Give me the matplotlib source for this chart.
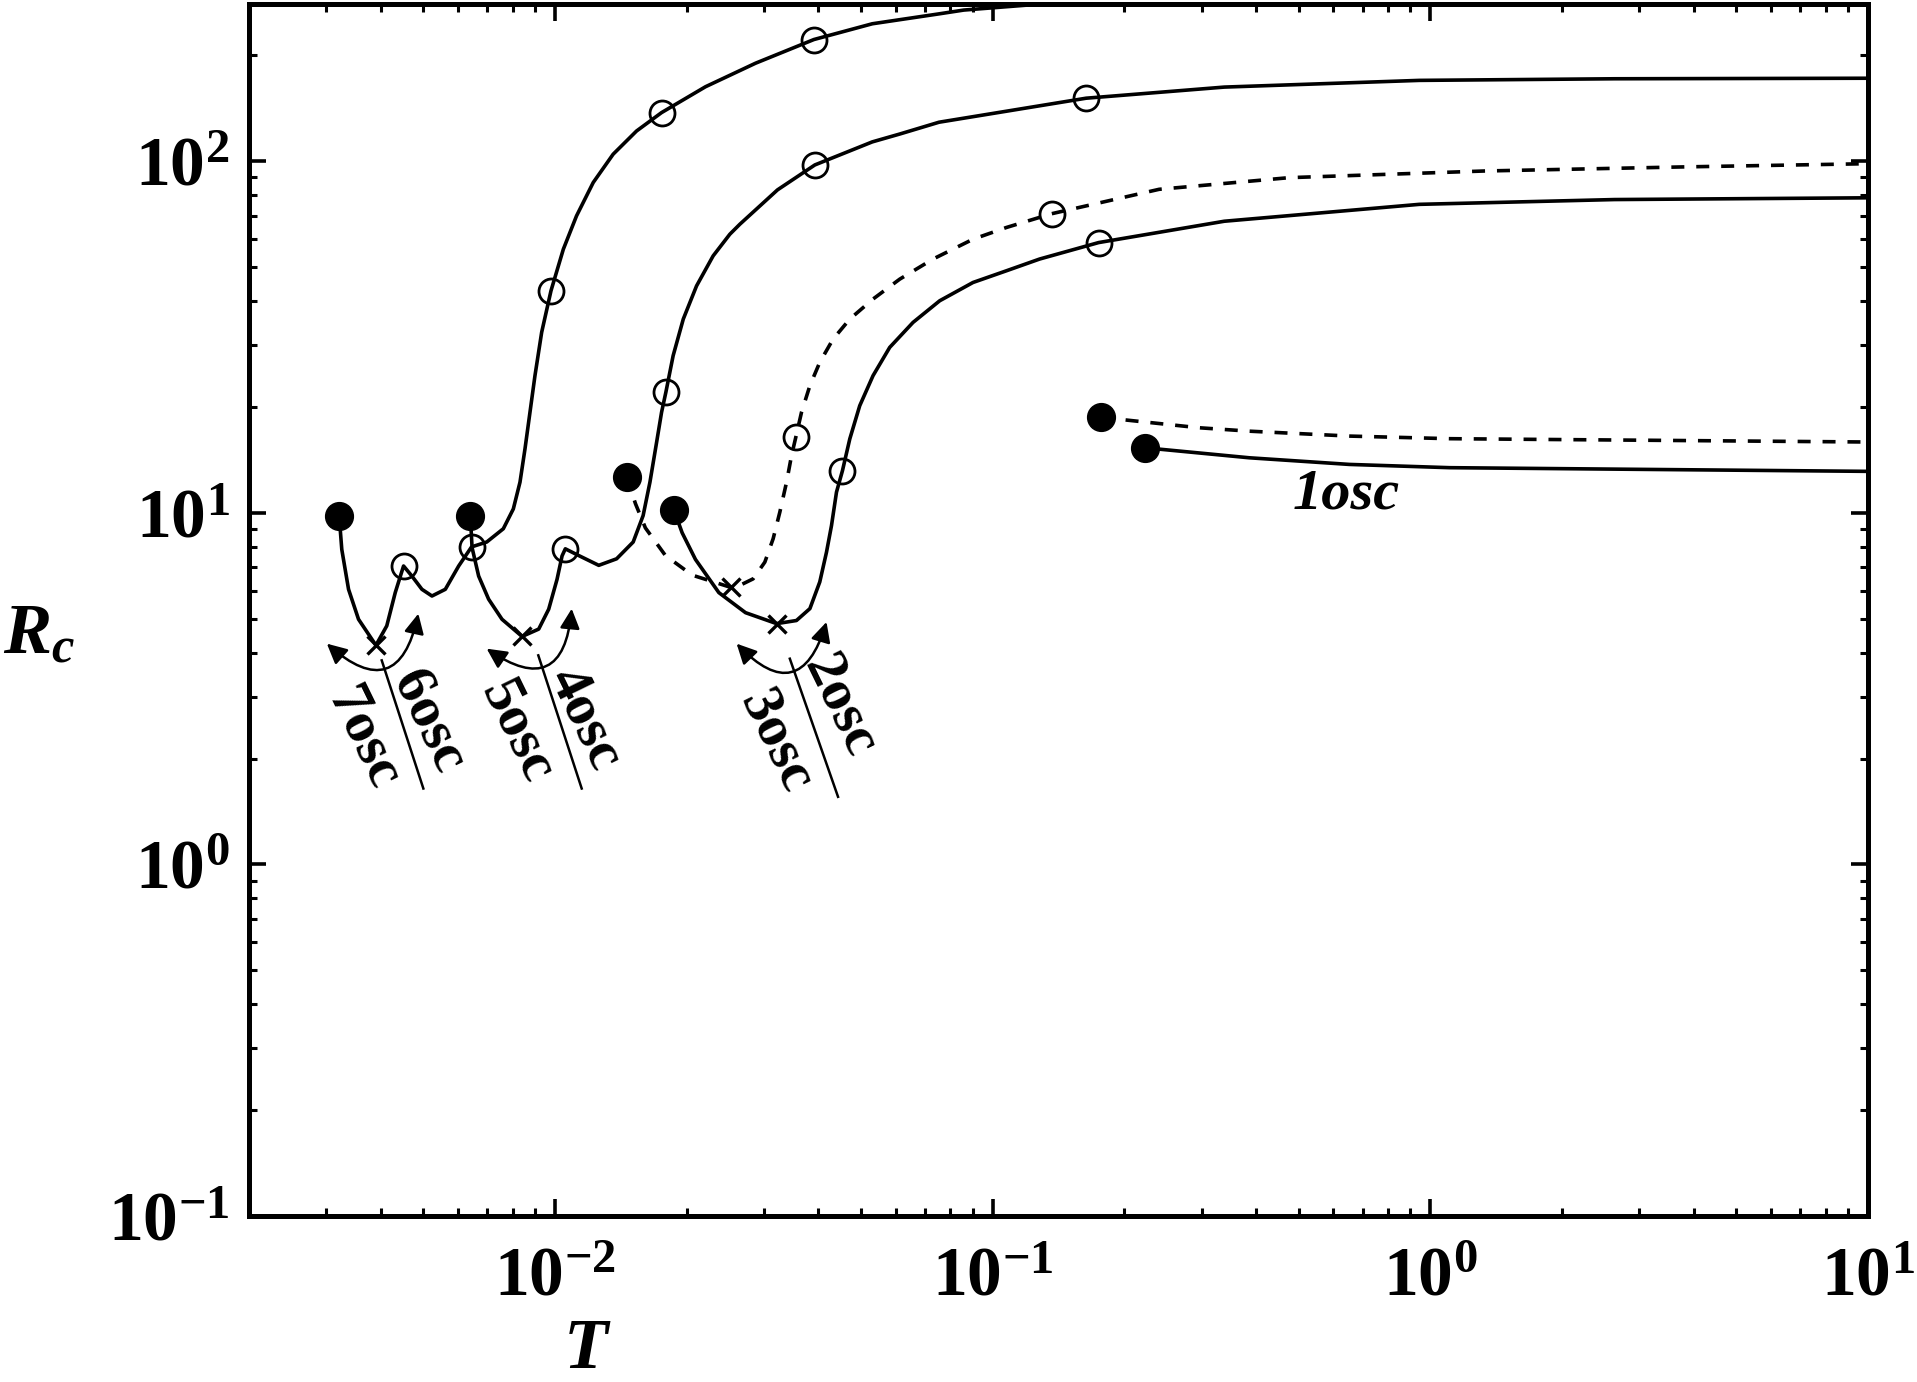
import numpy as np
import matplotlib
matplotlib.use("Agg")
import matplotlib.pyplot as plt
from matplotlib.ticker import LogLocator, FuncFormatter, NullFormatter

plt.rcParams["font.family"] = ["Liberation Serif", "DejaVu Serif"]
plt.rcParams["font.weight"] = "bold"
plt.rcParams["mathtext.fontset"] = "custom"
plt.rcParams["mathtext.rm"] = "Liberation Serif:bold"
plt.rcParams["mathtext.it"] = "Liberation Serif:italic:bold"
plt.rcParams["mathtext.bf"] = "Liberation Serif:bold"

# --- curves (T, Rc) ---
# 7osc -> 6osc -> upper branch
A_T = [0.003214, 0.003258, 0.003376, 0.003558, 0.003899, 0.004128, 0.004316, 0.004509,
       0.004711, 0.004966, 0.005236, 0.005617, 0.006026, 0.006448, 0.006984, 0.007621,
       0.008033, 0.008319, 0.008541, 0.008768, 0.009001, 0.009324, 0.009792, 0.01045,
       0.0112, 0.01223, 0.01358, 0.01536, 0.01752, 0.02208, 0.02872, 0.03905,
       0.05308, 0.0754, 0.08587, 0.1208, 0.15]
A_R = [9.79, 7.87, 6.06, 4.98, 4.2, 4.77, 5.93, 7.06,
       6.61, 6.06, 5.80, 6.06, 7.06, 8.0, 8.26, 9.01,
       10.26, 12.22, 15.2, 19.32, 24.55, 32.61, 42.8, 56.2,
       69.9, 87.0, 104.7, 121.9, 137.5, 162.9, 190.0, 221.9,
       246.0, 262.5, 269.1, 278.2, 284.0]

# 5osc -> 4osc -> second branch
B_T = [0.006407, 0.006466, 0.006693, 0.007054, 0.007568, 0.008410, 0.009180, 0.009676,
       0.01011, 0.01038, 0.01056, 0.01133, 0.01259, 0.01383, 0.01509, 0.0159,
       0.01648, 0.01707, 0.01752, 0.01792, 0.01862, 0.01964, 0.02106, 0.02298,
       0.02509, 0.02645, 0.03224, 0.03924, 0.05308, 0.06133, 0.0754, 0.1635,
       0.3381, 0.9433, 2.632, 10.0]
B_R = [9.79, 7.96, 6.61, 5.68, 4.98, 4.45, 4.67, 5.32,
       6.47, 7.54, 7.90, 7.56, 7.09, 7.40, 8.26, 9.82,
       12.22, 15.88, 19.32, 22.02, 27.99, 35.57, 44.2, 53.8,
       62.0, 66.2, 82.9, 97.6, 113.5, 119.5, 129.1, 151.1,
       162.5, 169.8, 171.6, 172.2]

# 3osc -> 2osc solid branch
C_T = [0.01869, 0.01952, 0.02094, 0.02368, 0.02725, 0.03209, 0.03562, 0.03823,
       0.04027, 0.04172, 0.04283, 0.04397, 0.04538, 0.04716, 0.04969, 0.05329,
       0.05818, 0.06577, 0.07568, 0.09016, 0.1075, 0.128, 0.1746, 0.3381,
       0.9433, 2.632, 10.0]
C_R = [10.2, 8.78, 7.37, 5.93, 5.20, 4.84, 4.94, 5.34,
       6.36, 7.73, 9.2, 11.45, 13.19, 16.23, 20.17, 24.55,
       29.55, 34.8, 40.1, 45.2, 48.8, 52.7, 58.7, 67.5,
       75.4, 77.8, 78.7]

# dashed branch
D_T = [0.01457, 0.01528, 0.01609, 0.01788, 0.02058, 0.02519, 0.02645, 0.02836,
       0.03016, 0.03151, 0.03264, 0.03381, 0.03471, 0.03550, 0.03658, 0.03823,
       0.04027, 0.04319, 0.04716, 0.05329, 0.06133, 0.07307, 0.09016, 0.1075,
       0.1363, 0.2400, 0.4757, 1.328, 3.707, 10.0]
D_R = [12.66, 10.6, 9.06, 7.56, 6.65, 6.14, 6.22, 6.49,
       7.24, 8.44, 10.05, 12.22, 14.55, 16.41, 19.32, 23.0,
       26.8, 31.2, 35.57, 40.55, 46.2, 52.7, 60.0, 64.8,
       70.9, 83.2, 89.8, 93.8, 96.3, 98.4]

# 1osc branches
E_T = [0.1766, 0.2954, 0.3857, 0.6531, 1.106, 10.0]
E_R = [18.69, 17.46, 17.07, 16.53, 16.25, 15.9]
F_T = [0.2230, 0.3857, 0.6531, 1.106, 10.0]
F_R = [15.31, 14.34, 13.73, 13.44, 13.12]

# markers
filled_T = [0.003214, 0.006407, 0.01457, 0.01869, 0.1766, 0.2230]
filled_R = [9.79, 9.79, 12.66, 10.2, 18.69, 15.31]
open_T = [0.004509, 0.006448, 0.009792, 0.01752, 0.03905,
          0.01056, 0.01792, 0.03924, 0.1635,
          0.04538, 0.1746, 0.03550, 0.1363]
open_R = [7.06, 8.0, 42.8, 137.5, 221.9,
          7.90, 22.02, 97.6, 151.1,
          13.19, 58.7, 16.41, 70.9]
cross_T = [0.003899, 0.00841, 0.03209, 0.02519]
cross_R = [4.2, 4.45, 4.84, 6.14]

# annotation groups: arrow tips, divider line, two labels
groups = [
    dict(tips=((0.003012, 4.245), (0.004874, 5.166)),
         line=((0.004020, 3.805), (0.005004, 1.644)),
         left=("7osc", 0.003650, 2.28), right=("6osc", 0.005137, 2.543)),
    dict(tips=((0.006982, 4.108), (0.01092, 5.337)),
         line=((0.009160, 3.932), (0.01151, 1.644)),
         left=("5osc", 0.008176, 2.387), right=("4osc", 0.01171, 2.599)),
    dict(tips=((0.02600, 4.245), (0.04172, 4.893)),
         line=((0.03440, 3.847), (0.04433, 1.557)),
         left=("3osc", 0.03209, 2.232), right=("2osc", 0.04473, 2.828)),
]

LW = 2.6

fig = plt.figure(figsize=(19.17, 13.82), dpi=100)
ax = fig.add_axes([0.1299, 0.1201, 0.8446, 0.8770])

for xs, ys in [(A_T, A_R), (B_T, B_R), (C_T, C_R), (F_T, F_R)]:
    ax.plot(xs, ys, color="black", lw=LW, solid_joinstyle="round")
for xs, ys in [(D_T, D_R), (E_T, E_R)]:
    ax.plot(xs, ys, color="black", lw=LW, linestyle=(0, (3.6, 3.3)))

ax.plot(filled_T, filled_R, "o", ms=20, color="black", zorder=5)
ax.plot(open_T, open_R, "o", ms=18, mfc="none", mec="black", mew=2.0, zorder=5)
ax.plot(cross_T, cross_R, "x", ms=13, mew=2.4, color="black", zorder=5)

for g in groups:
    ax.annotate("", xy=g["tips"][1], xytext=g["tips"][0],
                arrowprops=dict(arrowstyle="<|-|>", connectionstyle="arc3,rad=0.85",
                                lw=1.8, color="black", mutation_scale=30,
                                shrinkA=0, shrinkB=0))
    (x1, y1), (x2, y2) = g["line"]
    ax.plot([x1, x2], [y1, y2], color="black", lw=1.8)
    for txt, tx, ty in (g["left"], g["right"]):
        ax.text(tx, ty, txt, rotation=-64, rotation_mode="anchor", ha="center",
                va="center", fontsize=42, fontweight="bold")

ax.text(0.642, 11.28, "1osc", ha="center", va="center", fontsize=42,
        fontweight="bold", fontstyle="italic")

ax.set_xscale("log")
ax.set_yscale("log")
ax.set_xlim(0.002, 10)
ax.set_ylim(0.1, 280)

for axis in (ax.xaxis, ax.yaxis):
    axis.set_major_locator(LogLocator(base=10, numticks=20))
    axis.set_minor_locator(LogLocator(base=10, subs=np.arange(2, 10), numticks=200))
    axis.set_major_formatter(FuncFormatter(lambda v, p: r"$\mathrm{10^{%d}}$" % round(np.log10(v))))
    axis.set_minor_formatter(NullFormatter())

ax.tick_params(which="both", direction="in", top=True, right=True)
ax.tick_params(which="major", length=12, width=2.6, labelsize=50)
ax.tick_params(which="minor", length=6, width=2.2)
ax.tick_params(axis="x", which="major", pad=22)
ax.tick_params(axis="y", which="major", pad=14)
for sp in ax.spines.values():
    sp.set_linewidth(3.6)

# axis titles placed in figure coordinates
fig.text(0.3062, 0.023, r"$T$", fontsize=52, ha="center", va="center")
fig.text(0.0204, 0.5398, r"$R_c$", fontsize=52, ha="center", va="center")

fig.savefig("out.png", dpi=100)
